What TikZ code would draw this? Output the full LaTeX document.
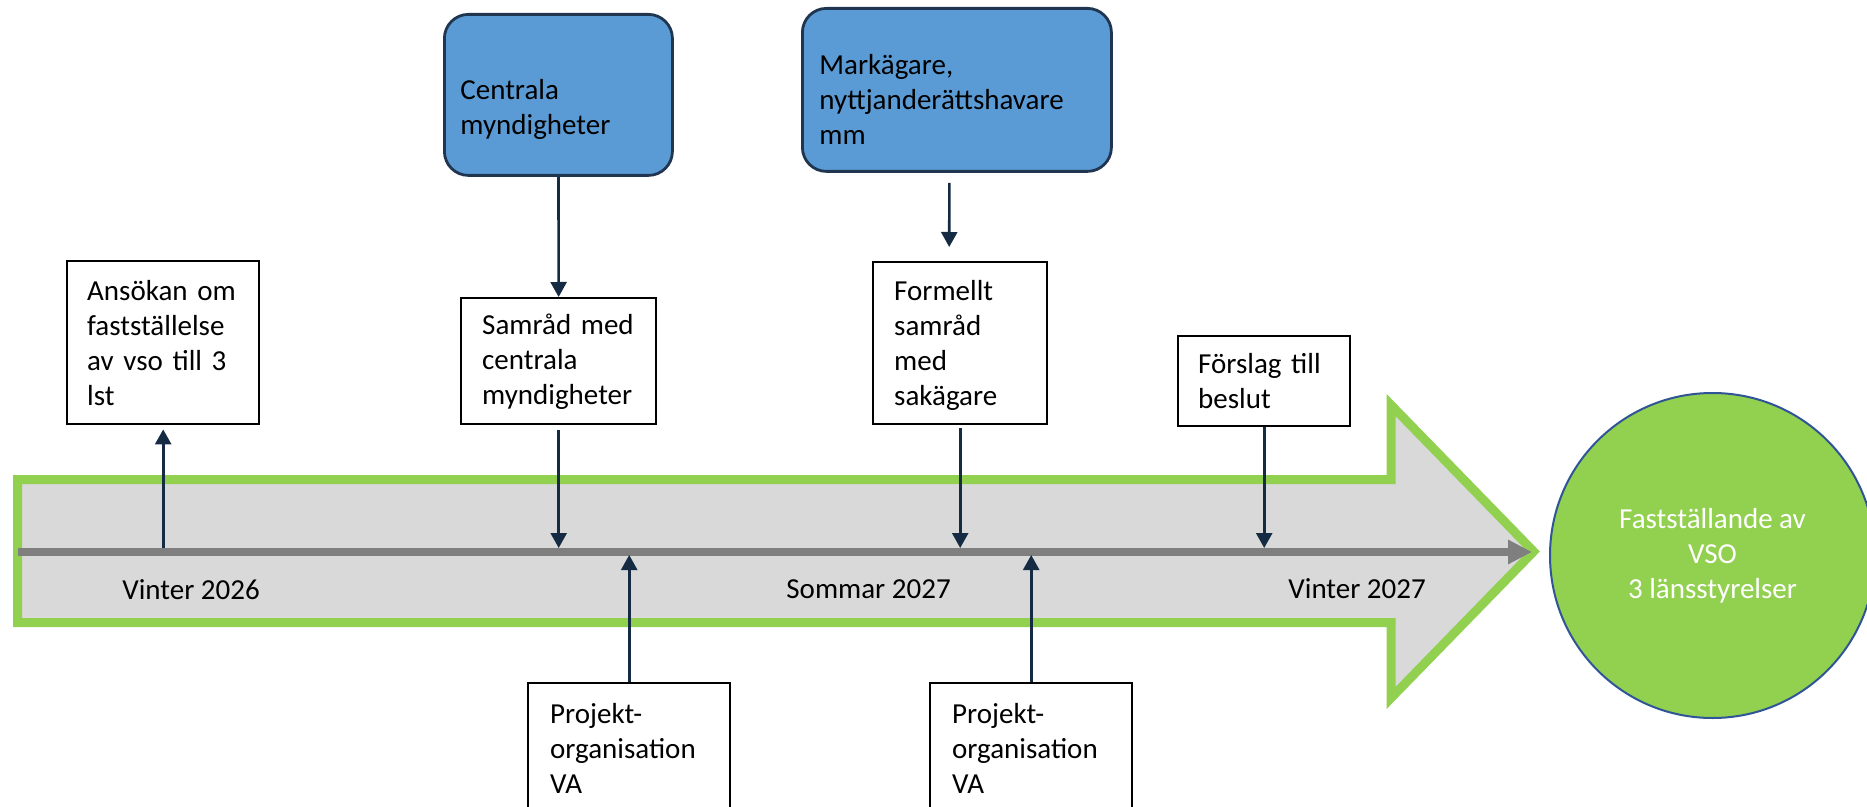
\documentclass[tikz,border=0pt]{standalone}
\usepackage{fontspec}
\setmainfont{Carlito}
\usetikzlibrary{arrows.meta}

\definecolor{arrowgreen}{HTML}{92D050}
\definecolor{bandgrey}{HTML}{D9D9D9}
\definecolor{axisgrey}{HTML}{7F7F7F}
\definecolor{navy}{HTML}{152B43}
\definecolor{actorblue}{HTML}{5B9BD5}
\definecolor{actorline}{HTML}{1F3550}
\definecolor{circleline}{HTML}{2F5597}

\begin{document}
\begin{tikzpicture}[x=0.5pt, y=-0.5pt,
      >={Triangle[width=8pt,length=7.5pt]},
      every node/.style={font=\fontsize{14.5pt}{17.5pt}\selectfont},
      milestone/.style={
        draw=black,
        line width=1.2pt,
        fill=white,
        anchor=north west,
        align=left,
        inner ysep=0pt
      },
      actor/.style={
        milestone,
        draw=actorline,
        fill=actorblue,
        line width=1.4pt,
        rounded corners=12pt
      },
      flow/.style={
        ->,
        navy,
        line width=1.3pt
      },
      period/.style={
        anchor=base west,
        inner sep=0pt
      },
    ]

    \path[use as bounding box, clip] (0,0) rectangle (1867,807);

    % the big arrow and the time axis
    \draw[arrowgreen, line width=4.5pt, fill=bandgrey]
      (17.5,479.5) -- (1391,479.5) -- (1391,405) -- (1533.6,551.5)
      -- (1391,698) -- (1391,622.5) -- (17.5,622.5) -- cycle;
    \coordinate (t0) at (18,552);
    \coordinate (t1) at (1532,552);
    \draw[axisgrey, line width=4pt, -{Triangle[width=11.5pt,length=12pt]}] (t0) -- (t1);

    \node[period] (v26) at (122,599) {Vinter 2026};
    \node[period] (s27) at (786,598) {Sommar 2027};
    \node[period] (v27) at (1288,598) {Vinter 2027};

    % boxes above the axis
    \node[milestone, text width=76pt, inner xsep=10pt, text height=19.5pt, text depth=62pt]
      (ansokan) at (66,260) {Ansökan om\\fastställelse\\av vso till 3\\lst};
    \node[milestone, text width=76.5pt, inner xsep=10.5pt, text height=18pt, text depth=45pt]
      (samrad) at (460,297) {Samråd med\\centrala\\myndigheter};
    \node[actor, text width=98pt, inner xsep=8pt, text height=42.5pt, text depth=38pt]
      (centrala) at (443,13) {Centrala\\myndigheter};
    \node[actor, text width=137.5pt, inner xsep=8.5pt, text height=33pt, text depth=48.5pt]
      (markagare) at (801,7) {Markägare,\\nyttjanderättshavare\\mm};
    \node[milestone, text width=66pt, inner xsep=10.5pt, text height=19pt, text depth=62pt]
      (formellt) at (872,261) {Formellt\\samråd\\med\\sakägare};
    \node[milestone, text width=66pt, inner xsep=10pt, text height=18.5pt, text depth=26.5pt]
      (forslag) at (1177,335) {Förslag till\\beslut};

    % boxes below the axis
    \node[milestone, text width=79pt, inner xsep=11pt, text height=20pt, text depth=60pt]
      (projekt1) at (527,682) {Projekt-\\organisation\\VA};
    \node[milestone, text width=79pt, inner xsep=11pt, text height=20pt, text depth=60pt]
      (projekt2) at (929,682) {Projekt-\\organisation\\VA};

    \node[circle, draw=circleline, line width=1pt, fill=arrowgreen, text=white,
      minimum size=162.5pt, inner sep=0pt, align=center]
      (vso) at (1712.5,555.5) {Fastställande av\\VSO\\3 länsstyrelser};

    % connectors
    \draw[flow] (centrala) -- (samrad);
    \draw[flow] ([xshift=-3.75pt,yshift=-5pt]markagare.south)
      -- ([xshift=-5.5pt,yshift=7pt]formellt.north);
    \draw[flow, shorten <=2.5pt, shorten >=2pt] (samrad.south) -- (samrad.south |- t0);
    \draw[flow, shorten <=1.5pt, shorten >=2pt] (formellt.south) -- (formellt.south |- t0);
    \draw[flow, shorten >=2pt] (forslag.south) -- (forslag.south |- t0);
    \draw[flow, shorten <=2pt, shorten >=2pt] (ansokan.south |- t0) -- (ansokan.south);
    \draw[flow, shorten >=1.5pt] (projekt1.north) -- (projekt1.north |- t0);
    \draw[flow, shorten >=1.5pt] (projekt2.north) -- (projekt2.north |- t0);
\end{tikzpicture}
\end{document}
